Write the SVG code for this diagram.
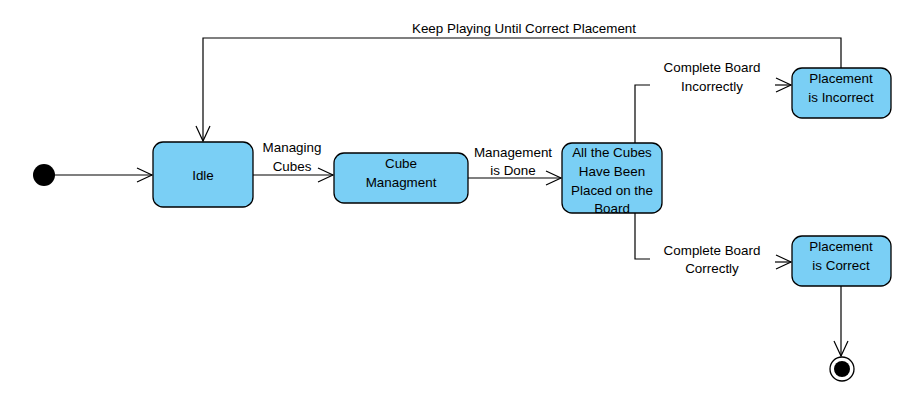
<svg xmlns="http://www.w3.org/2000/svg" width="920" height="415" viewBox="0 0 920 415">
<style>
.st{fill:#7acff5;stroke:#000;stroke-width:1.3}
.t{font-family:"Liberation Sans",Arial,sans-serif;font-size:13.4px;fill:#000;text-anchor:middle}
.c{fill:none;stroke:#000;stroke-width:1.2}
</style>
<defs>
<marker id="ah" markerUnits="userSpaceOnUse" markerWidth="20" markerHeight="20" refX="16" refY="8" orient="auto">
<path d="M1,1 L16,8 L1,15" fill="none" stroke="#000" stroke-width="1.2"/>
</marker>
</defs>
<rect width="920" height="415" fill="#fff"/>
<g id="connectors">
<line class="c" x1="55" y1="175" x2="152" y2="175" marker-end="url(#ah)"/>
<line class="c" x1="253" y1="175" x2="333" y2="175" marker-end="url(#ah)"/>
<line class="c" x1="468" y1="178" x2="561" y2="178" marker-end="url(#ah)"/>
<polyline class="c" points="635,143 635,85 650,85"/>
<line class="c" x1="775" y1="85" x2="791" y2="85" marker-end="url(#ah)"/>
<polyline class="c" points="635,213 635,259 650,259"/>
<line class="c" x1="775" y1="262" x2="791" y2="262" marker-end="url(#ah)"/>
<polyline class="c" points="841,68 841,38 203,38 203,141" marker-end="url(#ah)"/>
<line class="c" x1="841" y1="286" x2="841" y2="356" marker-end="url(#ah)"/>
<text class="t" x="292" y="152">Managing</text>
<text class="t" x="292" y="171">Cubes</text>
<text class="t" x="513" y="157">Management</text>
<text class="t" x="513" y="175">is Done</text>
<text class="t" x="712" y="72">Complete Board</text>
<text class="t" x="712" y="91">Incorrectly</text>
<text class="t" x="712" y="255">Complete Board</text>
<text class="t" x="712" y="273">Correctly</text>
<text class="t" x="524" y="33">Keep Playing Until Correct Placement</text>
</g>
<g id="initial"><circle cx="44" cy="175" r="11" fill="#000"/></g>
<g id="idle">
<rect class="st" x="153" y="142" width="100" height="65" rx="10"/>
<text class="t" x="203" y="180">Idle</text>
</g>
<g id="cube-managment">
<rect class="st" x="334" y="153" width="134" height="50" rx="10"/>
<text class="t" x="401" y="168">Cube</text>
<text class="t" x="401" y="187">Managment</text>
</g>
<g id="all-placed">
<rect class="st" x="562" y="143" width="100" height="70" rx="10"/>
<text class="t" x="612" y="157">All the Cubes</text>
<text class="t" x="612" y="176">Have Been</text>
<text class="t" x="612" y="195">Placed on the</text>
<text class="t" x="612" y="213">Board</text>
</g>
<g id="incorrect">
<rect class="st" x="792" y="68" width="99" height="50" rx="10"/>
<text class="t" x="841" y="83">Placement</text>
<text class="t" x="841" y="102">is Incorrect</text>
</g>
<g id="correct">
<rect class="st" x="792" y="236" width="99" height="50" rx="10"/>
<text class="t" x="841" y="251">Placement</text>
<text class="t" x="841" y="270">is Correct</text>
</g>
<g id="final">
<circle cx="842" cy="369" r="12" fill="#fff" stroke="#000" stroke-width="1.3"/>
<circle cx="842" cy="369" r="8" fill="#000"/>
</g>
</svg>
